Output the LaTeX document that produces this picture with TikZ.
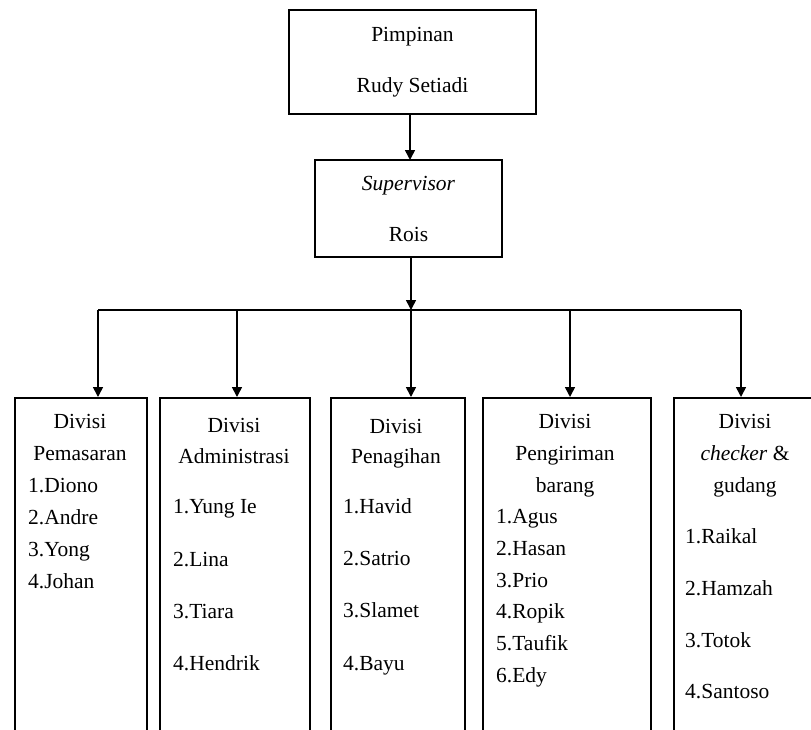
\documentclass[tikz,border=0pt]{standalone}
\usepackage{fontspec}
\setmainfont{Liberation Serif}
\usetikzlibrary{arrows.meta}
\tikzset{
  boxline/.style={draw=black, line width=1.6pt},
  topbox/.style={boxline, rectangle, inner sep=0pt, align=center,
     font=\fontsize{21.5}{51}\selectfont},
  divbox/.style={boxline, rectangle, anchor=north west, inner sep=0pt},
  head/.style={anchor=base, inner sep=0pt, font=\fontsize{21.5}{26}\selectfont},
  item/.style={anchor=base west, inner sep=0pt, font=\fontsize{21.5}{26}\selectfont},
  arr/.style={line width=1.6pt, -{Triangle[length=10pt,width=10pt]}},
  conn/.style={line width=1.6pt}
}
\begin{document}
\begin{tikzpicture}[x=1pt,y=-1pt]
\clip (0,0) rectangle (811,729);
\fill[white] (0,0) rectangle (811,729);
% top boxes
\node[topbox, minimum width=247pt, minimum height=104pt] (top) at (412.5,62) {Pimpinan\\Rudy Setiadi};
\node[topbox, minimum width=187pt, minimum height=97pt] (sup) at (408.5,208.5) {\textit{Supervisor}\\Rois};
% division boxes
\node[divbox, minimum width=132pt, minimum height=360pt] (d1) at (14,397) {};
\node[divbox, minimum width=150pt, minimum height=360pt] (d2) at (159,397) {};
\node[divbox, minimum width=134pt, minimum height=360pt] (d3) at (330,397) {};
\node[divbox, minimum width=168pt, minimum height=360pt] (d4) at (482,397) {};
\node[divbox, minimum width=150pt, minimum height=360pt] (d5) at (673,397) {};
% connectors
\coordinate (j1) at (98,310);
\coordinate (j2) at (237,310);
\coordinate (j3) at (411,310);
\coordinate (j4) at (570,310);
\coordinate (j5) at (741,310);
\draw[arr] (top.south -| 410,0) -- (410,160);
\draw[arr] (j3 |- sup.south) -- (j3);
\draw[conn] (j1) -- (j5);
\draw[arr] (j1) -- (j1 |- d1.north);
\draw[arr] (j2) -- (j2 |- d2.north);
\draw[arr] (j3) -- (j3 |- d3.north);
\draw[arr] (j4) -- (j4 |- d4.north);
\draw[arr] (j5) -- (j5 |- d5.north);
% box 1
\node[head] (h1a) at (80,428) {Divisi};
\node[head] (h1b) at (80,460) {Pemasaran};
\node[item] (i1a) at (28,492) {1.Diono};
\node[item] (i1b) at (28,524) {2.Andre};
\node[item] (i1c) at (28,556) {3.Yong};
\node[item] (i1d) at (28,588) {4.Johan};
% box 2
\node[head] (h2a) at (234,432) {Divisi};
\node[head] (h2b) at (234,463) {Administrasi};
\node[item] (i2a) at (173,513) {1.Yung Ie};
\node[item] (i2b) at (173,566) {2.Lina};
\node[item] (i2c) at (173,618) {3.Tiara};
\node[item] (i2d) at (173,670) {4.Hendrik};
% box 3
\node[head] (h3a) at (396,433) {Divisi};
\node[head] (h3b) at (396,463) {Penagihan};
\node[item] (i3a) at (343,513) {1.Havid};
\node[item] (i3b) at (343,565) {2.Satrio};
\node[item] (i3c) at (343,617) {3.Slamet};
\node[item] (i3d) at (343,670) {4.Bayu};
% box 4
\node[head] (h4a) at (565,428) {Divisi};
\node[head] (h4b) at (565,460) {Pengiriman};
\node[head] (h4c) at (565,492) {barang};
\node[item] (i4a) at (496,523) {1.Agus};
\node[item] (i4b) at (496,555) {2.Hasan};
\node[item] (i4c) at (496,587) {3.Prio};
\node[item] (i4d) at (496,618) {4.Ropik};
\node[item] (i4e) at (496,650) {5.Taufik};
\node[item] (i4f) at (496,682) {6.Edy};
% box 5
\node[head] (h5a) at (745,428) {Divisi};
\node[head] (h5b) at (745,460) {\textit{checker} \&};
\node[head] (h5c) at (745,492) {gudang};
\node[item] (i5a) at (685,543) {1.Raikal};
\node[item] (i5b) at (685,595) {2.Hamzah};
\node[item] (i5c) at (685,647) {3.Totok};
\node[item] (i5d) at (685,698) {4.Santoso};
\end{tikzpicture}
\end{document}
